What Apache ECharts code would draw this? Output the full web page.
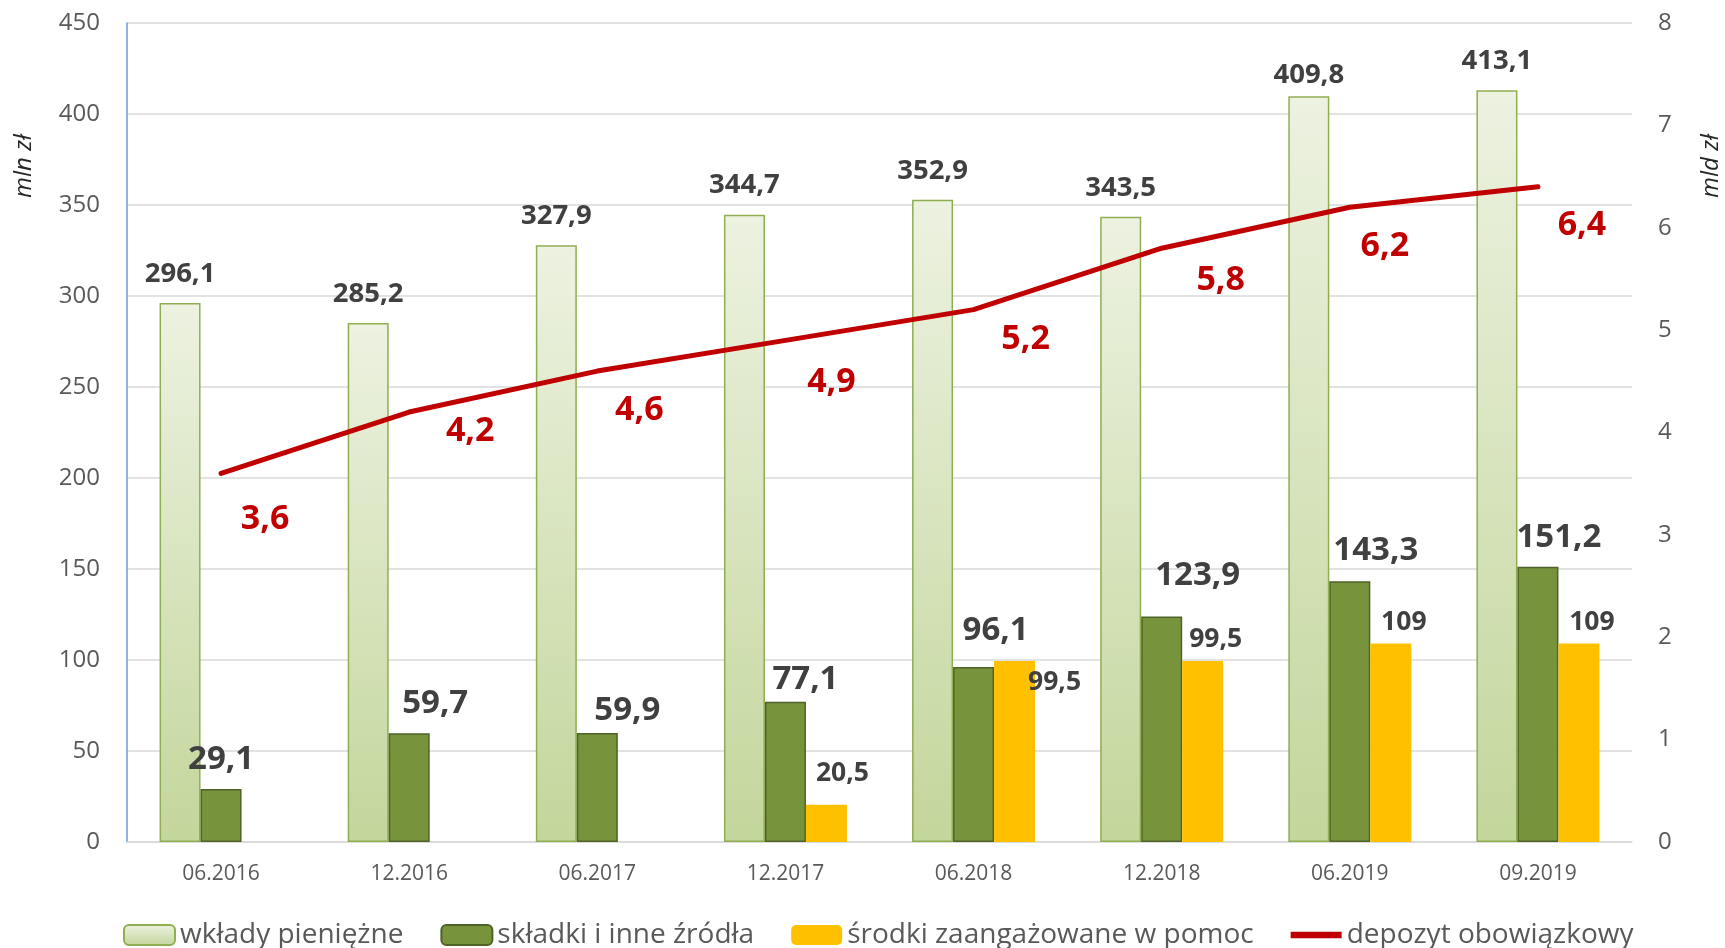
<!DOCTYPE html>
<html>
<head>
<meta charset="utf-8">
<script src="https://cdn.jsdelivr.net/npm/echarts@6/dist/echarts.min.js"></script>
<style>
  html, body { margin: 0; padding: 0; background: #fff; }
  #chart { width: 1725px; height: 948px; }
</style>
</head>
<body>
<div id="chart"></div>
<script>
const FONT = '"Open Sans", "Noto Sans", sans-serif'
const TEXT_GRAY = '#595959'
const LABEL_GRAY = '#404040'

const periods = ['06.2016', '12.2016', '06.2017', '12.2017', '06.2018', '12.2018', '06.2019', '09.2019']
const wklady = [296.1, 285.2, 327.9, 344.7, 352.9, 343.5, 409.8, 413.1]
const skladki = [29.1, 59.7, 59.9, 77.1, 96.1, 123.9, 143.3, 151.2]
const srodki = [null, null, null, 20.5, 99.5, 99.5, 109, 109]
const depozyt = [3.6, 4.2, 4.6, 4.9, 5.2, 5.8, 6.2, 6.4]

const seriesNames = ['wkłady pieniężne', 'składki i inne źródła', 'środki zaangażowane w pomoc', 'depozyt obowiązkowy']

// label placement (the source labels were nudged by hand)
const skladkiLabelOffsets = [[0, 3], [26, 3], [30, 10], [20, 10], [22, -4], [36, -8], [26, 2], [21, 3]]
const depozytLabelOffsets = [[44, 46], [61, 19], [42, 39], [46, 42], [52, 30], [59, 32], [35, 39], [44, 39]]

const fmt = (v) => String(v).replace('.', ',')

const chart = echarts.init(document.getElementById('chart'))

chart.setOption({
  animation: false,
  textStyle: { fontFamily: FONT },
  grid: { left: 127, right: 93, top: 23, bottom: 106 },
  legend: {
    top: 916,
    left: 118,
    itemWidth: 51,
    itemHeight: 20,
    itemGap: 37,
    textStyle: { fontSize: 28, color: TEXT_GRAY, fontFamily: FONT },
    data: [
      seriesNames[0],
      seriesNames[1],
      seriesNames[2],
      { name: seriesNames[3], icon: 'path://M0,0 L40,0 L40,5 L0,5 Z' },
    ],
  },
  xAxis: {
    type: 'category',
    data: periods,
    axisLine: { lineStyle: { color: '#d9d9d9', width: 1.5 } },
    axisTick: { show: false },
    axisLabel: { color: TEXT_GRAY, fontSize: 21, margin: 22 },
  },
  yAxis: [
    {
      type: 'value',
      min: 0,
      max: 450,
      interval: 50,
      axisLine: { show: true, lineStyle: { color: '#6a9bd8', width: 1.5 } },
      axisTick: { show: false },
      axisLabel: { color: TEXT_GRAY, fontSize: 24, margin: 27 },
      splitLine: { lineStyle: { color: '#d9d9d9', width: 1.5 } },
    },
    {
      type: 'value',
      min: 0,
      max: 8,
      interval: 1,
      axisLine: { show: false },
      axisTick: { show: false },
      axisLabel: { color: TEXT_GRAY, fontSize: 24, margin: 26 },
      splitLine: { show: false },
    },
  ],
  graphic: [
    {
      type: 'text',
      x: 24,
      y: 166,
      rotation: Math.PI / 2,
      style: {
        text: 'mln zł',
        align: 'center',
        verticalAlign: 'middle',
        font: 'italic 24px "Open Sans", sans-serif',
        fill: '#262626',
      },
    },
    {
      type: 'text',
      x: 1711,
      y: 166,
      rotation: Math.PI / 2,
      style: {
        text: 'mld zł',
        align: 'center',
        verticalAlign: 'middle',
        font: 'italic 24px "Open Sans", sans-serif',
        fill: '#262626',
      },
    },
  ],
  series: [
    {
      name: seriesNames[0],
      type: 'bar',
      barWidth: 41,
      barGap: '0%',
      itemStyle: {
        color: new echarts.graphic.LinearGradient(0, 0, 0, 1, [
          { offset: 0, color: '#edf2e1' },
          { offset: 1, color: '#c3d69b' },
        ]),
        borderColor: '#8fae52',
        borderWidth: 1.5,
      },
      label: {
        show: true,
        position: 'top',
        distance: 15,
        fontSize: 27.5,
        fontWeight: 'bold',
        color: LABEL_GRAY,
        formatter: (p) => fmt(p.value),
      },
      data: wklady.map((v, i) => (i === 6 ? { value: v, label: { offset: [0, 8] } } : v)),
    },
    {
      name: seriesNames[1],
      type: 'bar',
      barWidth: 41,
      barGap: '0%',
      itemStyle: { color: '#77933c', borderColor: '#4f6228', borderWidth: 1.5 },
      label: {
        show: true,
        position: 'top',
        distance: 16,
        fontSize: 33,
        fontWeight: 'bold',
        color: LABEL_GRAY,
        formatter: (p) => fmt(p.value),
      },
      data: skladki.map((v, i) => ({ value: v, label: { offset: skladkiLabelOffsets[i] } })),
    },
    {
      name: seriesNames[2],
      type: 'bar',
      barWidth: 41,
      barGap: '0%',
      itemStyle: { color: '#ffc000' },
      label: {
        show: true,
        position: 'top',
        distance: 8,
        offset: [13, 0],
        fontSize: 26.5,
        fontWeight: 'bold',
        color: LABEL_GRAY,
        formatter: (p) => fmt(p.value),
      },
      data: srodki.map((v, i) => {
        if (i === 3) return { value: v, label: { distance: 18, offset: [16, 0] } }
        if (i === 4) return { value: v, label: { position: 'insideTop', distance: 8, offset: [40, 0] } }
        return v
      }),
    },
    {
      name: seriesNames[3],
      type: 'line',
      yAxisIndex: 1,
      symbol: 'circle',
      symbolSize: 0.01,
      showSymbol: true,
      z: 5,
      lineStyle: { color: '#c00000', width: 5, cap: 'round' },
      itemStyle: { color: '#c00000' },
      label: {
        show: true,
        position: 'inside',
        fontSize: 34,
        fontWeight: 'bold',
        color: '#c00000',
        formatter: (p) => fmt(p.value),
      },
      data: depozyt.map((v, i) => ({ value: v, label: { offset: depozytLabelOffsets[i] } })),
    },
  ],
})
</script>
</body>
</html>
